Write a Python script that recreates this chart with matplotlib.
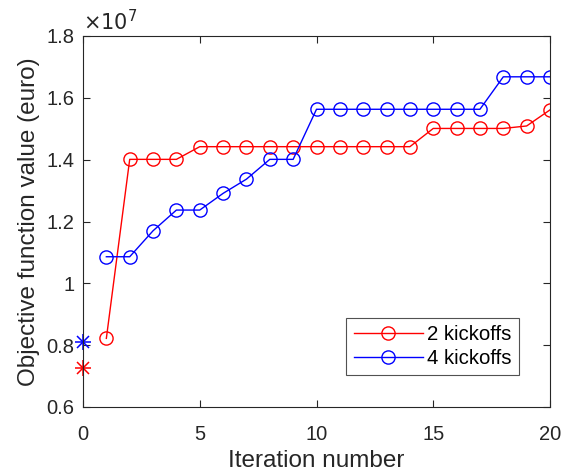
import matplotlib.pyplot as plt

plt.rcParams['font.family'] = ['Liberation Sans', 'DejaVu Sans']

# data (units of 1e7 euro)
iters = list(range(1, 21))
obj_2k = [0.822, 1.401, 1.401, 1.401, 1.442, 1.442, 1.442, 1.442, 1.442, 1.442,
          1.442, 1.442, 1.442, 1.442, 1.501, 1.501, 1.501, 1.501, 1.509, 1.561]
obj_4k = [1.086, 1.086, 1.170, 1.237, 1.237, 1.291, 1.337, 1.401, 1.401, 1.563,
          1.563, 1.563, 1.563, 1.563, 1.563, 1.563, 1.563, 1.668, 1.668, 1.668]
start_2k = 0.727
start_4k = 0.809

fig = plt.figure(figsize=(5.63, 4.76), dpi=100)
ax = fig.add_axes([83 / 563, 1 - 407 / 476, 467 / 563, 371 / 476])

ax.plot(iters, obj_2k, color='red', lw=1.0, marker='o', ms=9.5,
        mfc='none', mew=1.0, label='2 kickoffs')
ax.plot(iters, obj_4k, color='blue', lw=1.0, marker='o', ms=9.5,
        mfc='none', mew=1.0, label='4 kickoffs')
# starting points (MATLAB-style asterisk = plus + cross)
for val, col in [(start_2k, 'red'), (start_4k, 'blue')]:
    ax.plot([0], [val], color=col, marker='+', ms=12, mew=1.1, ls='none', clip_on=False)
    ax.plot([0], [val], color=col, marker='x', ms=9, mew=1.1, ls='none', clip_on=False)

ax.set_xlim(0, 20)
ax.set_ylim(0.6, 1.8)
ax.set_xticks([0, 5, 10, 15, 20])
ax.set_yticks([0.6, 0.8, 1.0, 1.2, 1.4, 1.6, 1.8])
ax.set_yticklabels(['0.6', '0.8', '1', '1.2', '1.4', '1.6', '1.8'])

dark = '#262626'
for s in ax.spines.values():
    s.set_color(dark)
    s.set_linewidth(0.8)
ax.tick_params(direction='in', top=True, right=True, length=5, width=0.8,
               color=dark, labelcolor=dark, labelsize=14.5)
ax.tick_params(axis='x', pad=13)
ax.tick_params(axis='y', pad=6)

ax.set_xlabel('Iteration number', fontsize=17.5, color=dark, labelpad=4)
ax.set_ylabel('Objective function value (euro)', fontsize=17.5, color=dark, labelpad=5)
ax.text(0.0, 1.005, r'$\times10^{7}$', transform=ax.transAxes, fontsize=15,
        color=dark, ha='left', va='bottom')

leg = ax.legend(loc='lower right', bbox_to_anchor=(0.955, 0.058), fontsize=14.7,
                frameon=True, fancybox=False, edgecolor=dark, handlelength=3.4,
                borderpad=0.35, labelspacing=0.25, handletextpad=0.2)
leg.get_frame().set_linewidth(0.8)

fig.savefig('out.png', dpi=100)
